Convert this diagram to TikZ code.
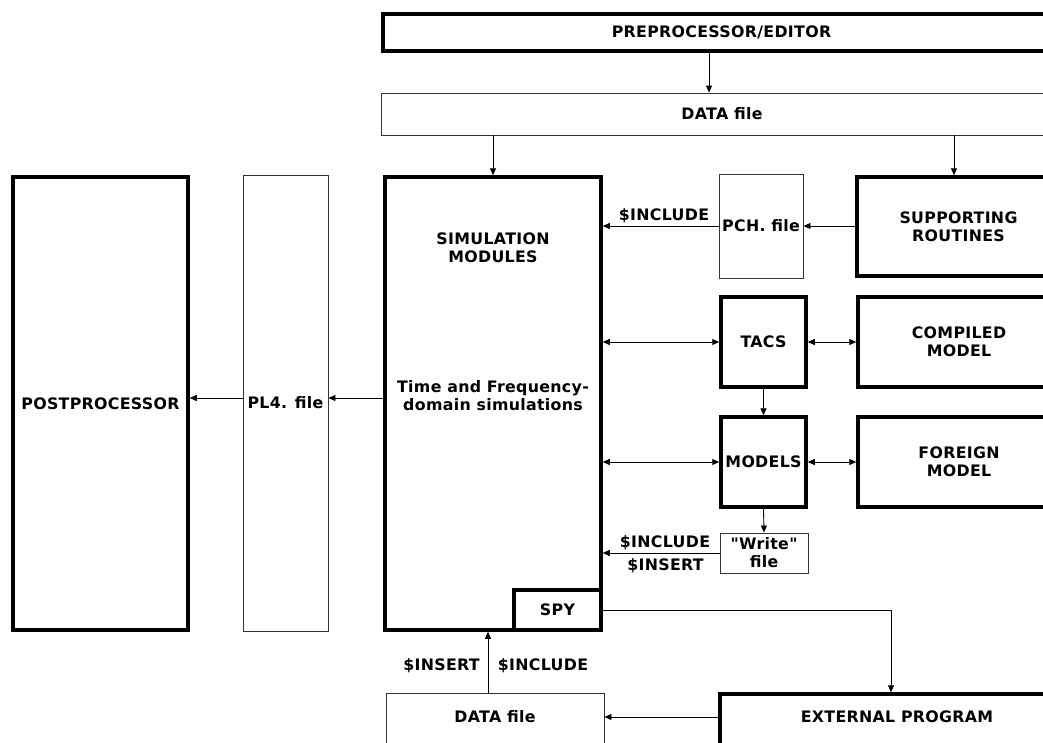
\documentclass[tikz,border=0pt]{standalone}
\usepackage{fontspec}
\newfontfamily\lblfont[LetterSpace=2]{DejaVu Sans}
\usetikzlibrary{arrows.meta}
\begin{document}
\begin{tikzpicture}[x=1pt,y=-1pt,
  lbl/.style={font={\lblfont\bfseries\fontsize{15.8}{18}\selectfont}, align=center, inner sep=0pt},
  thickbox/.style={draw, line width=3.5pt, inner sep=0pt, lbl},
  thinbox/.style={draw=black!80, line width=0.9pt, inner sep=0pt, lbl},
  arr/.style={line width=0.9pt, -{Triangle[length=7pt,width=6pt]}},
  dbl/.style={line width=0.9pt, {Triangle[length=7pt,width=6pt]}-{Triangle[length=7pt,width=6pt]}},
]
\useasboundingbox[fill=white] (0,0) rectangle (1043,742);

% boxes
\node[thickbox, minimum width=677pt, minimum height=37pt] (pre) at (721.5,32.5) {PREPROCESSOR/EDITOR};
\node[thinbox, minimum width=682pt, minimum height=42pt] (data1) at (722,114) {DATA file};
\node[thickbox, minimum width=216pt, minimum height=453pt] (sim) at (493,403.5) {};
\node[lbl] (simt) at (493,248) {SIMULATION\\MODULES};
\node[lbl] (simd) at (493,396) {Time and Frequency-\\domain simulations};
\node[thickbox, minimum width=87pt, minimum height=40pt] (spy) at (557.5,610) {SPY};
\node[thinbox, minimum width=84pt, minimum height=104pt] (pch) at (761,226) {PCH. file};
\node[thickbox, minimum width=203pt, minimum height=99pt] (sup) at (958.5,226.5) {SUPPORTING\\ROUTINES};
\node[thickbox, minimum width=85pt, minimum height=90pt] (tacs) at (763.5,342) {TACS};
\node[thickbox, minimum width=202pt, minimum height=90pt] (comp) at (959,342) {COMPILED\\MODEL};
\node[thickbox, minimum width=85pt, minimum height=90pt] (models) at (763.5,462) {MODELS};
\node[thickbox, minimum width=202pt, minimum height=90pt] (foreign) at (959,462) {FOREIGN\\MODEL};
\node[thinbox, minimum width=88pt, minimum height=40pt] (write) at (764,553) {"Write"\\file};
\node[thickbox, minimum width=175pt, minimum height=453pt] (post) at (100.5,403.5) {POSTPROCESSOR};
\node[thinbox, minimum width=85pt, minimum height=456pt] (pl4) at (285.5,403) {PL4. file};
\node[thinbox, minimum width=218pt, minimum height=57pt] (data2) at (495,721.5) {};
\node[lbl] (data2t) at (495,717) {DATA file};
\node[thickbox, minimum width=354pt, minimum height=56pt] (ext) at (897,722) {};
\node[lbl] (extt) at (897,717) {EXTERNAL PROGRAM};

% helper coordinates
\coordinate (xa) at (709,0);
\coordinate (xc) at (954,0);
\coordinate (xe) at (891,0);
\coordinate (xf) at (488,0);
\coordinate (yd) at (0,398);

% connectors
\draw[arr] (pre.south -| xa) -- (data1.north -| xa);
\draw[arr] (data1.south -| sim.north) -- (sim.north);
\draw[arr] (data1.south -| xc) -- (sup.north -| xc);
\draw[arr] (sup.west |- pch.east) -- (pch.east);
\draw[arr] (pch.west) -- (pch.west -| sim.east);
\draw[dbl] (tacs.west -| sim.east) -- (tacs.west);
\draw[dbl] (tacs.east) -- (comp.west |- tacs.east);
\draw[arr] (tacs.south) -- (models.north);
\draw[dbl] (models.west -| sim.east) -- (models.west);
\draw[dbl] (models.east) -- (foreign.west |- models.east);
\draw[arr] (models.south) -- (write.north);
\draw[arr] (write.west) -- (write.west -| sim.east);
\draw[arr] (sim.west |- yd) -- (pl4.east |- yd);
\draw[arr] (pl4.west |- yd) -- (post.east |- yd);
\draw[arr] (spy.east) -| (ext.north -| xe);
\draw[arr] (extt -| ext.west) -- (extt -| data2.east);
\draw[arr] (data2.north -| xf) -- (sim.south -| xf);

% connector labels
\node[lbl] (l1) at (664,216) {\$INCLUDE};
\node[lbl] (l2) at (665,542.5) {\$INCLUDE};
\node[lbl] (l3) at (665.5,565.5) {\$INSERT};
\node[lbl] (l4) at (441.5,665.5) {\$INSERT};
\node[lbl] (l5) at (543,665.5) {\$INCLUDE};
\end{tikzpicture}
\end{document}
